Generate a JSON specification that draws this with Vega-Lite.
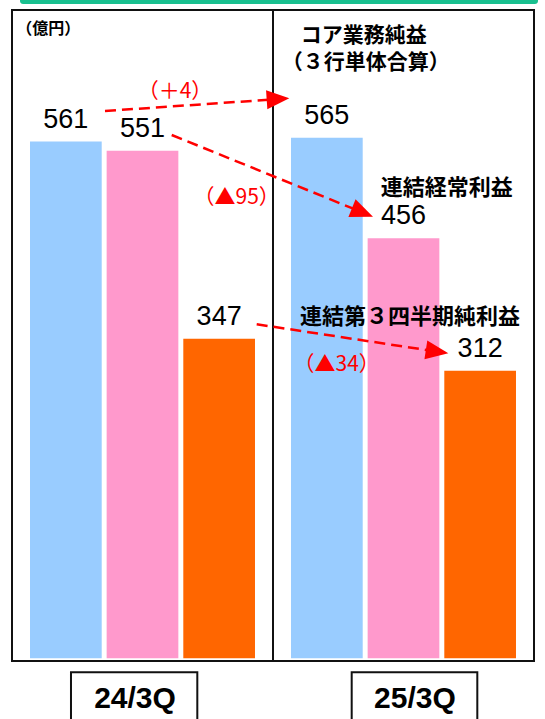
{
  "$schema": "https://vega.github.io/schema/vega-lite/v6.json",
  "width": 522,
  "height": 651,
  "autosize": {"type": "none"},
  "padding": {"left": 12, "top": 10, "right": 11, "bottom": 58},
  "background": "white",
  "config": {"view": {"stroke": "#111", "strokeWidth": 2}},
  "data": {"values": [
    {"period": "24/3Q", "series": "コア業務純益", "value": 561},
    {"period": "24/3Q", "series": "連結経常利益", "value": 551},
    {"period": "24/3Q", "series": "連結第３四半期純利益", "value": 347},
    {"period": "25/3Q", "series": "コア業務純益", "value": 565},
    {"period": "25/3Q", "series": "連結経常利益", "value": 456},
    {"period": "25/3Q", "series": "連結第３四半期純利益", "value": 312}
  ]},
  "layer": [
    {
      "mark": {"type": "bar", "clip": false},
      "encoding": {
        "x": {"field": "period", "type": "nominal", "scale": {"type": "band", "domain": ["24/3Q", "25/3Q"], "paddingInner": 0, "paddingOuter": 0}, "axis": null},
        "xOffset": {"field": "series", "type": "nominal", "scale": {"type": "band", "domain": ["コア業務純益", "連結経常利益", "連結第３四半期純利益"], "paddingInner": 0.0646, "paddingOuter": 0.235}},
        "y": {"field": "value", "type": "quantitative", "scale": {"domain": [-3, 703.8], "zero": false, "nice": false}, "axis": null},
        "y2": {"datum": 0},
        "color": {"field": "series", "type": "nominal", "scale": {"domain": ["コア業務純益", "連結経常利益", "連結第３四半期純利益"], "range": ["#99CCFF", "#FF99CC", "#FF6600"]}, "legend": null}
      }
    },
    {
      "mark": {"type": "text", "font": "Liberation Sans", "fontSize": 27, "baseline": "alphabetic", "dy": -14, "color": "#000", "clip": false},
      "encoding": {
        "x": {"field": "period", "type": "nominal"},
        "xOffset": {"field": "series", "type": "nominal"},
        "y": {"field": "value", "type": "quantitative"},
        "text": {"field": "value", "type": "quantitative"}
      }
    },
    {
      "data": {"values": [{"k": 1}]},
      "mark": {"type": "rule", "color": "#111", "strokeWidth": 2},
      "encoding": {"x": {"datum": "25/3Q", "type": "nominal", "bandPosition": 0}}
    },
    {
      "data": {"values": [{"k": 1}]},
      "mark": {"type": "rect", "color": "#19C08F", "cornerRadiusBottomLeft": 5, "cornerRadiusBottomRight": 5, "clip": false},
      "encoding": {
        "x": {"datum": "24/3Q", "type": "nominal", "bandPosition": 0.0307},
        "x2": {"datum": "25/3Q", "bandPosition": 1.0153},
        "y": {"datum": 717, "type": "quantitative"},
        "y2": {"datum": 710.3}
      }
    },
    {
      "data": {"values": [{"label": "（億円）"}]},
      "mark": {"type": "text", "font": "Noto Sans CJK JP", "fontWeight": "bold", "fontSize": 16, "align": "center", "baseline": "middle", "color": "#000", "clip": false},
      "encoding": {
        "x": {"datum": "24/3Q", "type": "nominal", "bandPosition": 0.139},
        "y": {"datum": 683.2, "type": "quantitative"},
        "text": {"field": "label"}
      }
    },
    {
      "data": {"values": [{"label": "コア業務純益"}]},
      "mark": {"type": "text", "font": "Noto Sans CJK JP", "fontWeight": "bold", "fontSize": 21, "align": "center", "baseline": "middle", "color": "#000", "clip": false},
      "encoding": {
        "x": {"datum": "25/3Q", "type": "nominal", "bandPosition": 0.3475},
        "y": {"datum": 675.6, "type": "quantitative"},
        "text": {"field": "label"}
      }
    },
    {
      "data": {"values": [{"label": "（３行単体合算）"}]},
      "mark": {"type": "text", "font": "Noto Sans CJK JP", "fontWeight": "bold", "fontSize": 21, "align": "center", "baseline": "middle", "color": "#000", "clip": false},
      "encoding": {
        "x": {"datum": "25/3Q", "type": "nominal", "bandPosition": 0.3557},
        "y": {"datum": 646.0, "type": "quantitative"},
        "text": {"field": "label"}
      }
    },
    {
      "data": {"values": [{"label": "連結経常利益"}]},
      "mark": {"type": "text", "font": "Noto Sans CJK JP", "fontWeight": "bold", "fontSize": 22, "align": "center", "baseline": "middle", "color": "#000", "clip": false},
      "encoding": {
        "x": {"datum": "25/3Q", "type": "nominal", "bandPosition": 0.6659},
        "y": {"datum": 510.5, "type": "quantitative"},
        "text": {"field": "label"}
      }
    },
    {
      "data": {"values": [{"label": "連結第３四半期純利益"}]},
      "mark": {"type": "text", "font": "Noto Sans CJK JP", "fontWeight": "bold", "fontSize": 22, "align": "center", "baseline": "middle", "color": "#000", "clip": false},
      "encoding": {
        "x": {"datum": "25/3Q", "type": "nominal", "bandPosition": 0.5249},
        "y": {"datum": 370.8, "type": "quantitative"},
        "text": {"field": "label"}
      }
    },
    {
      "data": {"values": [{"k": 1}]},
      "mark": {"type": "rule", "color": "#FF0000", "strokeWidth": 2.5, "strokeDash": [11, 6], "clip": false},
      "encoding": {
        "x": {"datum": "24/3Q", "type": "nominal", "bandPosition": 0.3563},
        "x2": {"datum": "25/3Q", "bandPosition": 0.0192},
        "y": {"datum": 594.1, "type": "quantitative"},
        "y2": {"datum": 607.1}
      }
    },
    {
      "data": {"values": [{"k": 1}]},
      "mark": {"type": "point", "shape": "M1,0L-1,-0.84L-1,0.84Z", "size": 515, "angle": -3.9, "filled": true, "color": "#FF0000", "opacity": 1, "clip": false},
      "encoding": {
        "x": {"datum": "25/3Q", "type": "nominal", "bandPosition": 0.0192},
        "y": {"datum": 607.1, "type": "quantitative"}
      }
    },
    {
      "data": {"values": [{"k": 1}]},
      "mark": {"type": "rule", "color": "#FF0000", "strokeWidth": 2.5, "strokeDash": [11, 6], "clip": false},
      "encoding": {
        "x": {"datum": "24/3Q", "type": "nominal", "bandPosition": 0.6119},
        "x2": {"datum": "25/3Q", "bandPosition": 0.3429},
        "y": {"datum": 568.1, "type": "quantitative"},
        "y2": {"datum": 484.05}
      }
    },
    {
      "data": {"values": [{"k": 1}]},
      "mark": {"type": "point", "shape": "M1,0L-1,-0.84L-1,0.84Z", "size": 515, "angle": 22.1, "filled": true, "color": "#FF0000", "opacity": 1, "clip": false},
      "encoding": {
        "x": {"datum": "25/3Q", "type": "nominal", "bandPosition": 0.3429},
        "y": {"datum": 484.05, "type": "quantitative"}
      }
    },
    {
      "data": {"values": [{"k": 1}]},
      "mark": {"type": "rule", "color": "#FF0000", "strokeWidth": 2.5, "strokeDash": [11, 6], "clip": false},
      "encoding": {
        "x": {"datum": "24/3Q", "type": "nominal", "bandPosition": 0.9375},
        "x2": {"datum": "25/3Q", "bandPosition": 0.6287},
        "y": {"datum": 362.6, "type": "quantitative"},
        "y2": {"datum": 332.9}
      }
    },
    {
      "data": {"values": [{"k": 1}]},
      "mark": {"type": "point", "shape": "M1,0L-1,-0.84L-1,0.84Z", "size": 515, "angle": 8.6, "filled": true, "color": "#FF0000", "opacity": 1, "clip": false},
      "encoding": {
        "x": {"datum": "25/3Q", "type": "nominal", "bandPosition": 0.6287},
        "y": {"datum": 332.9, "type": "quantitative"}
      }
    },
    {
      "data": {"values": [{"label": "（＋4）"}]},
      "mark": {"type": "text", "font": "Noto Sans CJK JP", "fontSize": 21, "align": "center", "baseline": "middle", "color": "#FF0000", "clip": false},
      "encoding": {
        "x": {"datum": "24/3Q", "type": "nominal", "bandPosition": 0.6245},
        "y": {"datum": 615.1, "type": "quantitative"},
        "text": {"field": "label"}
      }
    },
    {
      "data": {"values": [{"label": "（▲95）"}]},
      "mark": {"type": "text", "font": "Noto Sans CJK JP", "fontSize": 21, "align": "center", "baseline": "middle", "color": "#FF0000", "clip": false},
      "encoding": {
        "x": {"datum": "24/3Q", "type": "nominal", "bandPosition": 0.861},
        "y": {"datum": 499.4, "type": "quantitative"},
        "text": {"field": "label"}
      }
    },
    {
      "data": {"values": [{"label": "（▲34）"}]},
      "mark": {"type": "text", "font": "Noto Sans CJK JP", "fontSize": 21, "align": "center", "baseline": "middle", "color": "#FF0000", "clip": false},
      "encoding": {
        "x": {"datum": "25/3Q", "type": "nominal", "bandPosition": 0.244},
        "y": {"datum": 318.4, "type": "quantitative"},
        "text": {"field": "label"}
      }
    },
    {
      "data": {"values": [{"k": 1}]},
      "mark": {"type": "rect", "fill": "white", "stroke": "#111", "strokeWidth": 2, "clip": false},
      "encoding": {
        "x": {"datum": "24/3Q", "type": "nominal", "bandPosition": 0.226},
        "x2": {"datum": "24/3Q", "bandPosition": 0.710},
        "y": {"datum": -15.3, "type": "quantitative"},
        "y2": {"datum": -80}
      }
    },
    {
      "data": {"values": [{"k": 1}]},
      "mark": {"type": "rect", "fill": "white", "stroke": "#111", "strokeWidth": 2, "clip": false},
      "encoding": {
        "x": {"datum": "25/3Q", "type": "nominal", "bandPosition": 0.3015},
        "x2": {"datum": "25/3Q", "bandPosition": 0.7828},
        "y": {"datum": -15.3, "type": "quantitative"},
        "y2": {"datum": -80}
      }
    },
    {
      "data": {"values": [{"label": "24/3Q"}]},
      "mark": {"type": "text", "font": "Liberation Sans", "fontWeight": "bold", "fontSize": 30, "align": "center", "baseline": "middle", "color": "#000", "clip": false},
      "encoding": {
        "x": {"datum": "24/3Q", "type": "nominal", "bandPosition": 0.4713},
        "y": {"datum": -44.3, "type": "quantitative"},
        "text": {"field": "label"}
      }
    },
    {
      "data": {"values": [{"label": "25/3Q"}]},
      "mark": {"type": "text", "font": "Liberation Sans", "fontWeight": "bold", "fontSize": 30, "align": "center", "baseline": "middle", "color": "#000", "clip": false},
      "encoding": {
        "x": {"datum": "25/3Q", "type": "nominal", "bandPosition": 0.544},
        "y": {"datum": -44.3, "type": "quantitative"},
        "text": {"field": "label"}
      }
    }
  ]
}
